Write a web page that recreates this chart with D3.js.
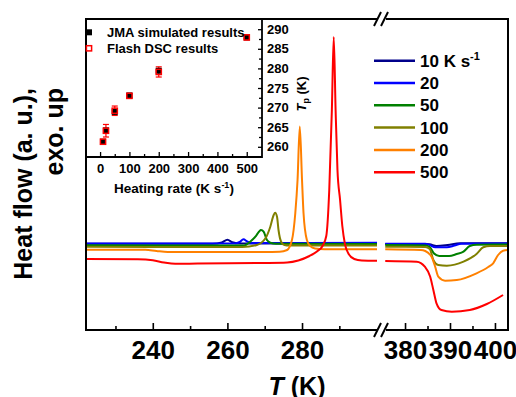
<!DOCTYPE html>
<html><head><meta charset="utf-8">
<script src="https://cdn.jsdelivr.net/npm/d3@7"></script>
<style>
body{margin:0;background:#fff}
text{font-family:"Liberation Sans",Arial,Helvetica,sans-serif;font-weight:bold;fill:#000}
</style>
</head><body>
<svg id="c" width="516" height="397"></svg>
<script>
// ---------------- DATA ----------------
const seriesLabels = ["10", "20", "50", "100", "200", "500"];
const seriesColors = ["#00008b", "#0000ff", "#008000", "#808000", "#ff8000", "#ff0000"];

// Heat flow (a.u.) vs T (K), low-temperature segment
const hf10Low  = [[222,8.62],[256,8.62],[258.5,8.75],[260,9.02],[261.3,8.77],[263,8.65],[300.1,8.67]];
const hf20Low  = [[222,8.65],[262,8.65],[263.3,8.8],[264.3,9.07],[265.3,8.85],[266.5,8.7],[300.1,8.72]];
const hf50Low  = [[222,8.47],[264.5,8.45],[266.1,8.83],[267.5,9.33],[268.5,9.85],[269,10.0],[269.7,9.83],[270.6,9.0],[271.5,8.73],[273,8.62],[300.1,8.6]];
const hf100Low = [[222,8.33],[264,8.3],[267.9,8.5],[270.2,9.17],[271.5,10.33],[272.4,11.5],[272.8,11.73],[273.3,11.33],[273.7,10.0],[274.4,8.83],[275.3,8.5],[276.5,8.45],[300.1,8.45]];
const hf200Low = [[222,8.03],[238,8.03],[241,7.9],[244,7.8],[270,7.8],[274,7.82],[276,8.0],[277.3,9.0],[278.2,11.7],[278.8,15.0],[279.4,20.35],[280,15.0],[280.4,11.7],[281.3,9.0],[282.2,8.4],[283.5,8.15],[286,8.07],[300.1,8.07]];
const hf500Low = [[222,7.1],[236,7.07],[240,6.97],[243,6.75],[246,6.62],[252,6.65],[270,6.7],[276,6.75],[279,6.95],[282,7.4],[284,7.85],[285.5,8.4],[286.5,9.4],[287.3,14.0],[288,22.0],[288.5,29.3],[289,22.0],[289.5,16.0],[290.2,13.0],[290.8,10.4],[291.5,8.6],[292.5,7.6],[294,7.1],[296,6.95],[300.1,6.92]];

// high-temperature segment
const hf10High  = [[375.6,8.6],[384.5,8.6],[385.5,8.57],[387,8.4],[389.5,8.5],[392.2,8.67],[402.9,8.67]];
const hf20High  = [[375.6,8.63],[384.5,8.63],[385.5,8.5],[386.7,8.27],[389.3,8.27],[391,8.45],[392.5,8.63],[402.9,8.65]];
const hf50High  = [[375.6,8.5],[384.5,8.45],[385.5,8.3],[386.4,7.67],[387.6,7.4],[389.8,7.4],[391.5,7.6],[393,7.83],[394.4,8.4],[395.9,8.53],[402.9,8.55]];
const hf100High = [[375.6,8.33],[384.5,8.3],[385.5,8.1],[386.3,7.0],[387.4,6.5],[389.3,6.43],[393,6.83],[395.9,7.6],[397.4,8.27],[398.9,8.4],[402.9,8.4]];
const hf200High = [[375.6,8.07],[383.5,8.0],[384.5,7.9],[385.9,7.33],[386.7,6.33],[387.4,5.33],[388.9,4.93],[391.5,5.0],[395.9,5.67],[398.5,6.3],[399.6,6.67],[400.7,7.5],[401.8,7.93],[402.9,8.0]];
const hf500High = [[375.6,6.9],[382.6,6.83],[384.4,6.33],[385.6,5.33],[386.3,4.0],[387.0,2.67],[388.1,2.0],[390.4,1.83],[394.4,2.0],[398.2,2.6],[401.8,3.5]];

const lowSeries  = [hf10Low, hf20Low, hf50Low, hf100Low, hf200Low, hf500Low];
const highSeries = [hf10High, hf20High, hf50High, hf100High, hf200High, hf500High];

// Inset: peak temperature vs heating rate
const heatingRates = [10, 20, 50, 100, 200, 500];
const tpJMA = [261.3, 264.2, 268.9, 273.1, 279.4, 287.9];
const tpDSC = [261.3, 264.1, 269.2, 273.0, 279.1, 287.9];
const tpDSCErr = [0.5, 1.6, 1.2, 0.5, 1.3, 0.3];

// tick labels
const mainTicksLow = [240, 260, 280];
const mainMinorLow = [230, 250, 270, 290];
const mainTicksHigh = [380, 390, 400];
const mainMinorHigh = [385, 395];
const insetXTicks = [0, 100, 200, 300, 400, 500];
const insetXMinor = [50, 150, 250, 350, 450];
const insetYTicks = [260, 265, 270, 275, 280, 285, 290];
const insetYMinor = [262.5, 267.5, 272.5, 277.5, 282.5, 287.5];

// ---------------- LAYOUT ----------------
const svg = d3.select("#c");
const L = 86, R = 508, T = 19, B = 330;
const breakL = 380, breakR = 383;

const xLow = d3.scaleLinear().domain([222.1, 300.9]).range([L, breakL]);
const xHigh = d3.scaleLinear().domain([375.1, 402.9]).range([breakR, R]);
const y = d3.scaleLinear().domain([0, 31.1]).range([B, T]);

// curves
const lineLow = d3.line().x(d => xLow(d[0])).y(d => y(d[1])).curve(d3.curveMonotoneX);
const lineHigh = d3.line().x(d => xHigh(d[0])).y(d => y(d[1])).curve(d3.curveMonotoneX);
const gCurves = svg.append("g");
lowSeries.forEach((s, i) => {
  gCurves.append("path").attr("d", lineLow(s)).attr("fill", "none")
    .attr("stroke", seriesColors[i]).attr("stroke-width", 2);
});
highSeries.forEach((s, i) => {
  gCurves.append("path").attr("d", lineHigh(s)).attr("fill", "none")
    .attr("stroke", seriesColors[i]).attr("stroke-width", 2);
});

// frame
const fr = svg.append("g").attr("stroke", "#000").attr("stroke-width", 2).attr("fill", "none");
fr.append("path").attr("d", `M${378},${T}H${L}V${B}H${378}`);
fr.append("path").attr("d", `M${386},${T}H${R}V${B}H${386}`);
// break marks
[[T],[B]].forEach(([yy]) => {
  fr.append("line").attr("x1", 374).attr("y1", yy + 7).attr("x2", 381).attr("y2", yy - 7);
  fr.append("line").attr("x1", 381).attr("y1", yy + 7).attr("x2", 388).attr("y2", yy - 7);
});

// main axes ticks
function styleAxis(g, fs) {
  g.select(".domain").remove();
  g.selectAll(".tick line").attr("stroke", "#000").attr("stroke-width", 1.6);
  g.selectAll(".tick text").style("font-size", fs + "px");
}
svg.append("g").attr("transform", `translate(0,${B})`)
  .call(d3.axisBottom(xLow).tickValues(mainTicksLow).tickSize(-7).tickPadding(11).tickFormat(d3.format("d")))
  .call(g => styleAxis(g, 26));
svg.append("g").attr("transform", `translate(0,${B})`)
  .call(d3.axisBottom(xLow).tickValues(mainMinorLow).tickSize(-4).tickFormat(""))
  .call(g => styleAxis(g, 26));
svg.append("g").attr("transform", `translate(0,${B})`)
  .call(d3.axisBottom(xHigh).tickValues(mainTicksHigh).tickSize(-7).tickPadding(11).tickFormat(d3.format("d")))
  .call(g => styleAxis(g, 26));
svg.append("g").attr("transform", `translate(0,${B})`)
  .call(d3.axisBottom(xHigh).tickValues(mainMinorHigh).tickSize(-4).tickFormat(""))
  .call(g => styleAxis(g, 26));
svg.selectAll(".tick text").attr("fill", "#000");

// axis titles
const xt = svg.append("text").attr("x", 297).attr("y", 395).attr("text-anchor", "middle").style("font-size", "25px");
xt.append("tspan").style("font-style", "italic").text("T");
xt.append("tspan").text(" (K)");

svg.append("text").attr("transform", "translate(32,88) rotate(-90)").attr("text-anchor", "end")
  .style("font-size", "25px").text("Heat flow (a. u.),");
svg.append("text").attr("transform", "translate(63,88) rotate(-90)").attr("text-anchor", "end")
  .style("font-size", "25px").text("exo. up");

// legend
const lg = svg.append("g");
seriesLabels.forEach((lab, i) => {
  const yy = 60.7 + i * 22.3;
  lg.append("line").attr("x1", 374).attr("x2", 415).attr("y1", yy).attr("y2", yy)
    .attr("stroke", seriesColors[i]).attr("stroke-width", 2.5);
  const t = lg.append("text").attr("x", 420).attr("y", yy + 6).style("font-size", "17px").text(lab);
  if (i === 0) {
    t.append("tspan").text(" K s");
    t.append("tspan").attr("dy", -7).style("font-size", "11px").text("-1");
  }
});

// ---------------- INSET ----------------
const iL = 86, iR = 262, iT = 19, iB = 157;
const xi = d3.scaleLinear().domain([-48, 552]).range([iL, iR]);
const yi = d3.scaleLinear().domain([257.4, 292.6]).range([iB, iT]);
const ig = svg.append("g");
ig.append("path").attr("d", `M${iL},${iB}H${iR}V${iT}`).attr("fill", "none").attr("stroke", "#000").attr("stroke-width", 1.8);

ig.append("g").attr("transform", `translate(0,${iB})`)
  .call(d3.axisBottom(xi).tickValues(insetXTicks).tickSize(-5).tickPadding(7))
  .call(g => styleAxis(g, 13));
ig.append("g").attr("transform", `translate(0,${iB})`)
  .call(d3.axisBottom(xi).tickValues(insetXMinor).tickSize(-3).tickFormat(""))
  .call(g => styleAxis(g, 13));
ig.append("g").attr("transform", `translate(${iR},0)`)
  .call(d3.axisRight(yi).tickValues(insetYTicks).tickSize(-4).tickPadding(5))
  .call(g => styleAxis(g, 13));
ig.append("g").attr("transform", `translate(${iR},0)`)
  .call(d3.axisRight(yi).tickValues(insetYMinor).tickSize(-3).tickFormat(""))
  .call(g => styleAxis(g, 13));
ig.selectAll(".tick line").attr("stroke-width", 1.3);
ig.selectAll(".tick text").attr("fill", "#000");

const ixt = ig.append("text").attr("x", 174).attr("y", 193).attr("text-anchor", "middle").style("font-size", "13.5px").text("Heating rate (K s");
ixt.append("tspan").attr("dy", -5).style("font-size", "9px").text("-1");
ixt.append("tspan").attr("dy", 5).text(")");

const iyt = ig.append("text").attr("transform", "translate(306,94) rotate(-90)").attr("text-anchor", "middle").style("font-size", "13px");
iyt.append("tspan").style("font-style", "italic").text("T");
iyt.append("tspan").attr("dy", 3).style("font-size", "9px").text("p");
iyt.append("tspan").attr("dy", -3).text(" (K)");

// error bars
heatingRates.forEach((r, i) => {
  const cx = xi(r), y1 = yi(tpDSC[i] - tpDSCErr[i]), y2 = yi(tpDSC[i] + tpDSCErr[i]);
  ig.append("line").attr("x1", cx).attr("x2", cx).attr("y1", y1).attr("y2", y2).attr("stroke", "#ff0000").attr("stroke-width", 1.2);
  ig.append("line").attr("x1", cx - 3).attr("x2", cx + 3).attr("y1", y1).attr("y2", y1).attr("stroke", "#ff0000").attr("stroke-width", 1.2);
  ig.append("line").attr("x1", cx - 3).attr("x2", cx + 3).attr("y1", y2).attr("y2", y2).attr("stroke", "#ff0000").attr("stroke-width", 1.2);
});
// JMA squares
ig.selectAll(".jma").data(heatingRates).enter().append("rect")
  .attr("x", (d, i) => xi(d) - 3).attr("y", (d, i) => yi(tpJMA[i]) - 3)
  .attr("width", 6).attr("height", 6).attr("fill", "#000");
// DSC open squares
ig.selectAll(".dsc").data(heatingRates).enter().append("rect")
  .attr("x", (d, i) => xi(d) - 2.6).attr("y", (d, i) => yi(tpDSC[i]) - 2.6)
  .attr("width", 5.2).attr("height", 5.2).attr("fill", "none").attr("stroke", "#ff0000").attr("stroke-width", 1.5);

// inset legend
ig.append("rect").attr("x", 86).attr("y", 29.3).attr("width", 6).attr("height", 6).attr("fill", "#000");
ig.append("rect").attr("x", 86.4).attr("y", 45.7).attr("width", 5.2).attr("height", 5.2).attr("fill", "none").attr("stroke", "#ff0000").attr("stroke-width", 1.5);
ig.append("text").attr("x", 107).attr("y", 37).style("font-size", "13px").text("JMA simulated results");
ig.append("text").attr("x", 107).attr("y", 53).style("font-size", "13px").text("Flash DSC results");
</script>
</body></html>
